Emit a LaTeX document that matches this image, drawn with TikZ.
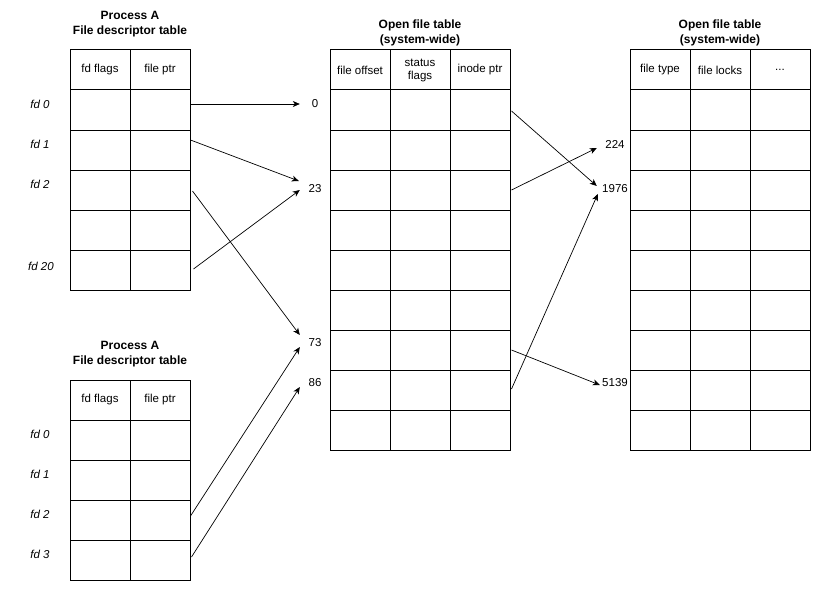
\documentclass[tikz,border=0pt]{standalone}
\usepackage{fontspec}
\setmainfont{Liberation Sans}
\usepackage{tikz}
\usetikzlibrary{arrows.meta,positioning,calc}

\begin{document}
\begin{tikzpicture}[x=1pt,y=-1pt,
  cell/.style={draw,line width=1pt,minimum width=60pt,minimum height=40pt,inner sep=0pt,align=center,font=\fontsize{11.5}{13}\selectfont},
  tabtitle/.style={align=center,font=\bfseries\fontsize{12}{15}\selectfont},
  fdlabel/.style={font=\itshape\fontsize{11.5}{13}\selectfont},
  num/.style={minimum width=30pt,minimum height=16pt,inner sep=0pt,font=\fontsize{11.5}{13}\selectfont},
  ptr/.style={-{Stealth[length=7pt,width=6pt,inset=2pt]},line width=0.7pt}]
\useasboundingbox (0,0) rectangle (821,591);

% process A, first descriptor table
\node[tabtitle] (fdt1-title) at (130,24) {Process A\\File descriptor table};
\node[cell] (fdt1-0-1) at (100,70) {fd flags};
\node[cell] (fdt1-0-2) at (160,70) {file ptr};
\foreach \r in {1,...,5}
  \foreach \c in {1,2}
    \node[cell] (fdt1-\r-\c) at ({40+60*\c},{70+40*\r}) {};
\node[fdlabel] (fdt1-l0) at (40,104) {fd 0};
\node[fdlabel] (fdt1-l1) at (40,144) {fd 1};
\node[fdlabel] (fdt1-l2) at (40,184) {fd 2};
\node[fdlabel] (fdt1-l20) at (41,266) {fd 20};

% process A, second descriptor table
\node[tabtitle] (fdt2-title) at (130,354) {Process A\\File descriptor table};
\node[cell] (fdt2-0-1) at (100,400) {fd flags};
\node[cell] (fdt2-0-2) at (160,400) {file ptr};
\foreach \r in {1,...,4}
  \foreach \c in {1,2}
    \node[cell] (fdt2-\r-\c) at ({40+60*\c},{400+40*\r}) {};
\foreach \r/\y in {0/434,1/474,2/514,3/554}
  \node[fdlabel] (fdt2-l\r) at (40,\y) {fd \r};

% open file table
\node[tabtitle] (oft-title) at (420,33) {Open file table\\(system-wide)};
\node[cell] (oft-0-1) at (360,70) {file offset};
\node[cell] (oft-0-2) at (420,70) {status\\flags};
\node[cell] (oft-0-3) at (480,70) {inode ptr};
\foreach \r in {1,...,9}
  \foreach \c in {1,2,3}
    \node[cell] (oft-\r-\c) at ({300+60*\c},{70+40*\r}) {};

% second system-wide table
\node[tabtitle] (vnt-title) at (720,33) {Open file table\\(system-wide)};
\node[cell] (vnt-0-1) at (660,70) {file type};
\node[cell] (vnt-0-2) at (720,70) {file locks};
\node[cell] (vnt-0-3) at (780,70) {...};
\foreach \r in {1,...,9}
  \foreach \c in {1,2,3}
    \node[cell] (vnt-\r-\c) at ({600+60*\c},{70+40*\r}) {};

% entry numbers
\node[num] (n0) at (315,104) {0};
\node[num] (n23) at (315,189) {23};
\node[num] (n73) at (315,343) {73};
\node[num] (n86) at (315,383) {86};
\node[num] (n224) at (615,144) {224};
\node[num] (n1976) at (615,189) {1976};
\node[num] (n5139) at (615,383) {5139};

% pointers
\draw[ptr] ($(fdt1-1-2.east)+(0,-6)$) -- (n0.west);
\draw[ptr] ($(fdt1-2-2.east)+(0,-10)$) -- ($(n23.west)+(-1,-8)$);
\draw[ptr] ($(fdt1-3-2.east)+(2,1)$) -- ($(n73.west)+(0,-8)$);
\draw[ptr] ($(fdt1-5-2.east)+(3,-1)$) -- ($(n23.west)+(0,1)$);
\draw[ptr] ($(fdt2-3-2.east)+(0,-4)$) -- ($(n73.west)+(0,4)$);
\draw[ptr] ($(fdt2-4-2.east)+(1,-3)$) -- ($(n86.west)+(0,4)$);
\draw[ptr] ($(oft-1-3.east)+(1,1)$) -- ($(n1976.west)+(-3,-3)$);
\draw[ptr] ($(oft-3-3.east)+(1,0)$) -- ($(n224.west)+(-3,4)$);
\draw[ptr] ($(oft-7-3.east)+(1,0)$) -- ($(n5139.west)+(0,2)$);
\draw[ptr] ($(oft-8-3.east)+(1,-1)$) -- ($(n1976.west)+(-2,5)$);
\end{tikzpicture}
\end{document}
